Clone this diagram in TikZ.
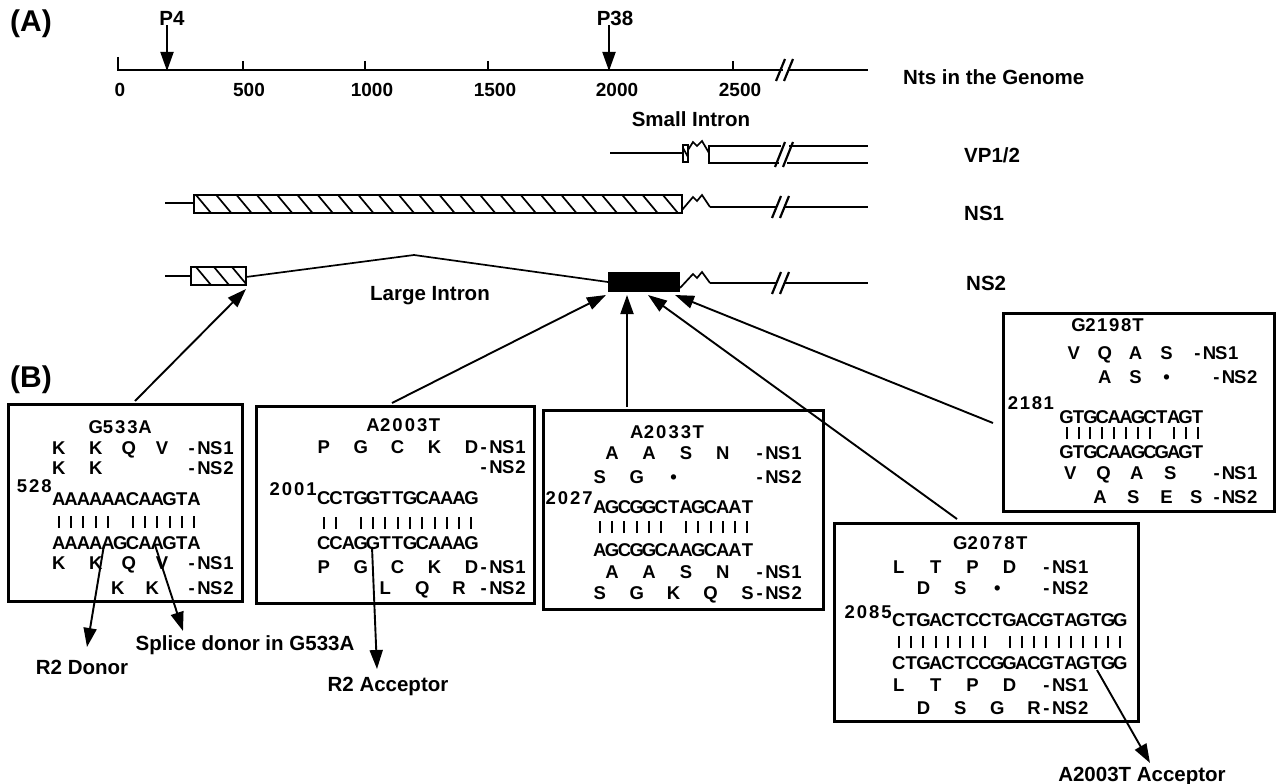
\documentclass[tikz,border=0pt]{standalone}
\usepackage{fontspec}
\setmainfont{Liberation Sans}
\usetikzlibrary{arrows.meta}
\newlength\gcw
\setlength{\gcw}{12.3pt}
\let\gridend\relax
\def\stopdot{\textbullet}
\def\gridchar#1{\makebox[\gcw][c]{\ifx#1.\relax\else\ifx#1|\rule{2pt}{12.5pt}\else#1\fi\fi}}
\def\gridloop#1{\ifx#1\gridend\else\gridchar#1\expandafter\gridloop\fi}
\newcommand\gridtext[1]{\gridloop#1\gridend}
\newcommand\gat[2]{\rlap{\hspace*{#1\gcw}\gridtext{#2}}}
\begin{document}
\begin{tikzpicture}[x=1pt,y=-1pt,
  lbl/.style={font=\fontsize{20.5}{22}\selectfont\bfseries, inner sep=0},
  ticklbl/.style={font=\fontsize{19}{20}\selectfont\bfseries, inner sep=0},
  panel/.style={font=\fontsize{30}{30}\selectfont\bfseries, inner sep=0},
  ln/.style={line width=2.2pt},
  thin/.style={line width=1.7pt},
  seqbox/.style={draw, line width=2.8pt, inner sep=0, anchor=north west},
  arr/.style={line width=1.9pt, -{Triangle[length=19pt,width=13pt]}},
  gridrow/.style={anchor=base west, inner sep=0, font=\fontsize{18.5}{18.5}\selectfont\bfseries}]
\fill[white] (0,0) rectangle (1286,784);
\useasboundingbox (0,0) rectangle (1286,784);

% ---------- panel labels ----------
\node[panel] (labA) at (31,24) {(A)};
\node[panel] (labB) at (31,380) {(B)};

% ---------- genome axis ----------
\draw[ln] (118,57) -- (118,70) -- (783,70);
\draw[ln] (789,70) -- (868,70);
\draw[ln] (776,81) -- (785,59);
\draw[ln] (784,81) -- (793,59);
\foreach \tx in {243,365,488,733} \draw[ln] (\tx,61) -- (\tx,70);
\node[ticklbl] (t0) at (120,90) {0};
\node[ticklbl] (t500) at (249,90) {500};
\node[ticklbl] (t1000) at (372,90) {1000};
\node[ticklbl] (t1500) at (495,90) {1500};
\node[ticklbl] (t2000) at (617,90) {2000};
\node[ticklbl] (t2500) at (740,90) {2500};
\node[lbl, anchor=west] (nts) at (903,77) {Nts in the Genome};
\node[lbl] (p4) at (172,18) {P4};
\node[lbl] (p38) at (615,18) {P38};
\coordinate (p4tip) at (167,71);
\coordinate (p38tip) at (609,71);
\draw[arr] (p4tip |- p4.south) -- (p4tip);
\draw[arr] (p38tip |- p38.south) -- (p38tip);

% ---------- VP1/2 ----------
\node[lbl] (small) at (691,119) {Small Intron};
\draw[ln] (610,153) -- (683,153);
\draw[thin] (683,145) rectangle (688,162);
\draw[thin] (683,148) -- (688,157);
\draw[thin] (688,150) -- (693,142) -- (697,146) -- (702,141) -- (709,153);
\draw[ln] (781,146) -- (709,146) -- (709,163) -- (779,163);
\draw[ln] (789,146) -- (868,146);
\draw[ln] (787,163) -- (868,163);
\draw[ln] (775,167) -- (785,142);
\draw[ln] (783,167) -- (793,142);
\node[lbl, anchor=west] (vp) at (964,155) {VP1/2};

% ---------- NS1 ----------
\draw[ln] (165,203) -- (194,203);
\begin{scope}
\clip (194,195) rectangle (682,213);
\foreach \i in {0,...,24} \draw[thin] (196+\i*20.3,195) -- (211+\i*20.3,213);
\end{scope}
\draw[ln] (194,195) rectangle (682,213);
\draw[thin] (682,210) -- (693,197) -- (697,201) -- (702,195) -- (710,207);
\draw[ln] (710,207) -- (776,207);
\draw[ln] (785,207) -- (868,207);
\draw[ln] (772,218) -- (781,196);
\draw[ln] (780,218) -- (789,196);
\node[lbl, anchor=west] (ns1) at (964,213) {NS1};

% ---------- NS2 ----------
\draw[ln] (165,276) -- (191,276);
\begin{scope}
\clip (191,267) rectangle (246,285);
\foreach \i in {0,...,2} \draw[thin] (196+\i*18,267) -- (211+\i*18,285);
\end{scope}
\draw[ln] (191,267) rectangle (246,285);
\draw[thin] (246,277) -- (414,255) -- (608,282);
\fill (608,272) rectangle (680,292);
\draw[thin] (680,288) -- (693,274) -- (697,278) -- (702,272) -- (710,283);
\draw[ln] (710,283) -- (776,283);
\draw[ln] (785,283) -- (868,283);
\draw[ln] (772,294) -- (781,272);
\draw[ln] (780,294) -- (789,272);
\node[lbl, anchor=west] (ns2) at (966,283) {NS2};
\node[lbl] (large) at (430,296) {Large Intron};

% ---------- boxes ----------
\node[seqbox, minimum width=234pt, minimum height=197pt] (box1) at (7,403) {};
\node[seqbox, minimum width=278pt, minimum height=197pt] (box2) at (255,405) {};
\node[seqbox, minimum width=280pt, minimum height=199pt] (box3) at (542,409) {};
\node[seqbox, minimum width=271pt, minimum height=198pt] (box4) at (1002,312) {};
\node[seqbox, minimum width=304pt, minimum height=198pt] (box5) at (833,522) {};

% box 1 : G533A
\node[gridrow] (b1t) at (52,433) {\gat{3}{G533A}};
\node[gridrow] (b1a) at (52,454) {\gat{0}{K}\gat{3}{K}\gat{5.7}{Q}\gat{8.4}{V}\gat{10.8}{-NS1}};
\node[gridrow] (b1b) at (52,474) {\gat{0}{K}\gat{3}{K}\gat{10.8}{-NS2}};
\node[gridrow] (b1n) at (52,492) {\gat{-3}{528}};
\node[gridrow] (b1s) at (52,505) {\gat{0}{AAAAAACAAGTA}};
\node[gridrow] (b1m) at (52,528) {\gat{0}{|||||.||||||}};
\node[gridrow] (b1u) at (52,549) {\gat{0}{AAAAAGCAAGTA}};
\node[gridrow] (b1c) at (52,569) {\gat{0}{K}\gat{3}{K}\gat{5.7}{Q}\gat{8.4}{V}\gat{10.8}{-NS1}};
\node[gridrow] (b1d) at (52,594) {\gat{4.8}{K}\gat{7.6}{K}\gat{10.8}{-NS2}};

% box 2 : A2003T
\node[gridrow] (b2t) at (317,431) {\gat{4}{A2003T}};
\node[gridrow] (b2a) at (317,453) {\gat{0}{P..G..C..K..D-NS1}};
\node[gridrow] (b2b) at (317,473) {\gat{13}{-NS2}};
\node[gridrow] (b2n) at (317,495) {\gat{-4}{2001}};
\node[gridrow] (b2s) at (317,504) {\gat{0}{CCTGGTTGCAAAG}};
\node[gridrow] (b2m) at (317,529) {\gat{0}{||.||||||||||}};
\node[gridrow] (b2u) at (317,549) {\gat{0}{CCAGGTTGCAAAG}};
\node[gridrow] (b2c) at (317,573) {\gat{0}{P..G..C..K..D-NS1}};
\node[gridrow] (b2d) at (317,594) {\gat{5}{L..Q..R.-NS2}};

% box 3 : A2033T
\node[gridrow] (b3t) at (593,438) {\gat{3}{A2033T}};
\node[gridrow] (b3a) at (593,459) {\gat{1}{A..A..S..N..-NS1}};
\node[gridrow] (b3b) at (593,483) {\gat{0}{S..G..\stopdot......-NS2}};
\node[gridrow] (b3n) at (593,504) {\gat{-4}{2027}};
\node[gridrow] (b3s) at (593,513) {\gat{0}{AGCGGCTAGCAAT}};
\node[gridrow] (b3m) at (593,533) {\gat{0}{||||||.||||||}};
\node[gridrow] (b3u) at (593,556) {\gat{0}{AGCGGCAAGCAAT}};
\node[gridrow] (b3c) at (593,578) {\gat{1}{A..A..S..N..-NS1}};
\node[gridrow] (b3d) at (593,599) {\gat{0}{S..G..K..Q..S-NS2}};

% box 5 : G2078T
\node[gridrow] (b5t) at (892,549) {\gat{5}{G2078T}};
\node[gridrow] (b5a) at (892,573) {\gat{0}{L..T..P..D..-NS1}};
\node[gridrow] (b5b) at (892,594) {\gat{2}{D..S..\stopdot...-NS2}};
\node[gridrow] (b5n) at (892,618) {\gat{-4}{2085}};
\node[gridrow] (b5s) at (892,626) {\gat{0}{CTGACTCCTGACGTAGTGG}};
\node[gridrow] (b5m) at (892,648) {\gat{0}{||||||||.||||||||||}};
\node[gridrow] (b5u) at (892,669) {\gat{0}{CTGACTCCGGACGTAGTGG}};
\node[gridrow] (b5c) at (892,691) {\gat{0}{L..T..P..D..-NS1}};
\node[gridrow] (b5d) at (892,714) {\gat{2}{D..S..G..R-NS2}};

% box 4 : G2198T
\setlength{\gcw}{11.9pt}
\node[gridrow] (b4t) at (1060,331) {\gat{1}{G2198T}};
\node[gridrow] (b4a) at (1060,359) {\gat{0.6}{V}\gat{3.2}{Q}\gat{5.8}{A}\gat{8.4}{S}\gat{11}{-NS1}};
\node[gridrow] (b4b) at (1060,383) {\gat{3.2}{A}\gat{5.8}{S}\gat{8.4}{\stopdot}\gat{12.6}{-NS2}};
\node[gridrow] (b4n) at (1060,409) {\gat{-4.5}{2181}};
\node[gridrow] (b4s) at (1060,423) {\gat{0}{GTGCAAGCTAGT}};
\node[gridrow] (b4m) at (1060,439) {\gat{0}{||||||||.|||}};
\node[gridrow] (b4u) at (1060,458) {\gat{0}{GTGCAAGCGAGT}};
\node[gridrow] (b4c) at (1060,479) {\gat{0.3}{V}\gat{3.1}{Q}\gat{5.9}{A}\gat{8.7}{S}\gat{12.6}{-NS1}};
\node[gridrow] (b4d) at (1060,503) {\gat{2.8}{A}\gat{5.6}{S}\gat{8.4}{E}\gat{10.9}{S}\gat{12.6}{-NS2}};
\setlength{\gcw}{12.3pt}

% ---------- arrows from boxes to NS2 ----------
\coordinate (a1s) at (135,401);
\coordinate (a1e) at (246,289);
\coordinate (a2s) at (392,403);
\coordinate (a2e) at (606,295);
\coordinate (a3s) at (627,407);
\coordinate (a3e) at (627,295);
\coordinate (a4s) at (957,519);
\coordinate (a4e) at (648,295);
\coordinate (a5s) at (993,423);
\coordinate (a5e) at (675,295);
\draw[arr] (a1s) -- (a1e);
\draw[arr] (a2s) -- (a2e);
\draw[arr] (a3s) -- (a3e);
\draw[arr] (a4s) -- (a4e);
\draw[arr] (a5s) -- (a5e);

% ---------- bottom arrows and labels ----------
\node[lbl] (r2d) at (82,667) {R2 Donor};
\node[lbl] (spl) at (245,645) {Splice donor in G533A};
\node[lbl] (r2a) at (388,686) {R2 Acceptor};
\node[lbl] (a2003) at (1142,776) {A2003T Acceptor};
\coordinate (d1s) at (104,545);
\coordinate (d1e) at (87,647);
\coordinate (d2s) at (155,545);
\coordinate (d2e) at (183,631);
\coordinate (d3s) at (372,547);
\coordinate (d3e) at (377,669);
\coordinate (d4s) at (1097,670);
\coordinate (d4e) at (1150,763);
\draw[arr] (d1s) -- (d1e);
\draw[arr] (d2s) -- (d2e);
\draw[arr] (d3s) -- (d3e);
\draw[arr] (d4s) -- (d4e);
\end{tikzpicture}
\end{document}
